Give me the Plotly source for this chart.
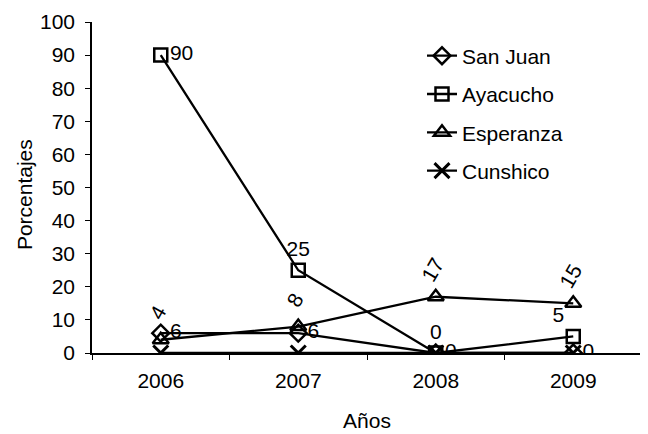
import plotly.graph_objects as go

years = ["2006", "2007", "2008", "2009"]
san_juan = [6, 6, 0, 0]
ayacucho = [90, 25, 0, 5]
esperanza = [4, 8, 17, 15]
cunshico = [0, 0, 0, 0]
y_ticks = [0, 10, 20, 30, 40, 50, 60, 70, 80, 90, 100]

FONT = "Liberation Sans, Arial, sans-serif"
FS = 21
LW = 2.3
MS = 13

# the page body has an 8px default margin; the figure is sized so that
# the plot area lands where the reference has it inside the 648x434 window
PAGE_OFF = 8

fig = go.Figure()

fig.add_trace(go.Scatter(
    x=years, y=san_juan, name="San Juan", mode="lines+markers+text",
    line=dict(color="black", width=LW),
    marker=dict(symbol="diamond-open", size=MS, color="black", line=dict(width=2.5)),
    text=[str(v) for v in san_juan], textposition="middle right",
    textfont=dict(size=FS, color="black"), legendgroup="a",
))
fig.add_trace(go.Scatter(
    x=years, y=ayacucho, name="Ayacucho", mode="lines+markers+text",
    line=dict(color="black", width=LW),
    marker=dict(symbol="square-open", size=MS, color="black", line=dict(width=2.5)),
    text=[str(v) for v in ayacucho],
    textposition=["middle right", "top center", "top center", "top left"],
    textfont=dict(size=FS, color="black"), legendgroup="b",
))
fig.add_trace(go.Scatter(
    x=years, y=esperanza, name="Esperanza", mode="lines+markers",
    line=dict(color="black", width=LW),
    marker=dict(symbol="triangle-up-open", size=MS + 1, color="black", line=dict(width=2.5)),
    legendgroup="c",
))
fig.add_trace(go.Scatter(
    x=years, y=cunshico, name="Cunshico", mode="lines+markers",
    line=dict(color="black", width=LW),
    marker=dict(symbol="x-thin-open", size=MS + 2, color="black", line=dict(width=3, color="black")),
    legendgroup="d",
))

for i, yv in enumerate(esperanza):
    fig.add_annotation(
        x=i, y=yv, xref="x", yref="y", text=str(yv), showarrow=False,
        textangle=-60, yshift=27, xshift=-3,
        font=dict(size=FS, color="black", family=FONT),
    )

fig.add_annotation(
    x=(24 - 92) / 550, xref="paper", y=0.477, yref="paper",
    text="Porcentajes", showarrow=False, textangle=-90,
    font=dict(size=FS, color="black", family=FONT),
    xanchor="center", yanchor="middle",
)

fig.update_layout(
    width=648 - PAGE_OFF, height=434 - PAGE_OFF,
    margin=dict(l=92 - PAGE_OFF, r=6, t=22 - PAGE_OFF, b=81),
    paper_bgcolor="white", plot_bgcolor="white",
    font=dict(family=FONT, size=FS, color="black"),
    showlegend=True,
    legend=dict(
        x=0.6, y=0.959, xanchor="left", yanchor="top",
        bgcolor="rgba(0,0,0,0)", traceorder="grouped", tracegroupgap=8,
        font=dict(size=FS), itemwidth=30,
    ),
    xaxis=dict(
        type="category", range=[-0.5, 3.5], automargin=False,
        showline=True, linecolor="black", linewidth=1.5,
        ticks="outside", tickson="boundaries", ticklen=5, tickcolor="black",
        showgrid=False, zeroline=False, ticklabelstandoff=8,
        title=dict(text="Años", standoff=22, font=dict(size=FS)),
    ),
    yaxis=dict(
        range=[0, 100], tickvals=y_ticks, automargin=False,
        showline=True, linecolor="black", linewidth=1.5,
        ticks="outside", ticklen=5, tickcolor="black",
        showgrid=False, zeroline=False,
        ticklabelstandoff=6,
    ),
)

fig.write_html("out.html")
